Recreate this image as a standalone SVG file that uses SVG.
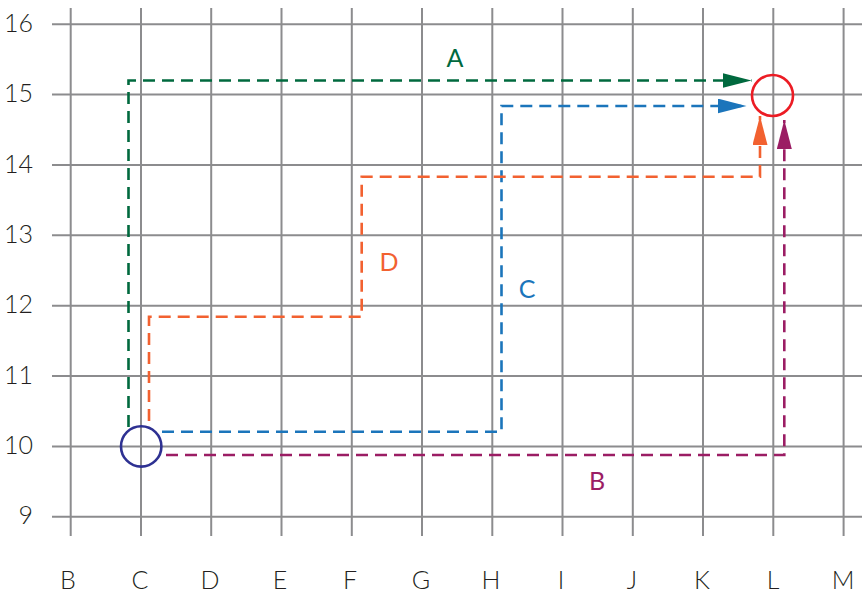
<svg xmlns="http://www.w3.org/2000/svg" width="864" height="594" viewBox="0 0 864 594">
<defs>
<style>
.grid line{stroke:#8c8c8e;stroke-width:2}
.lbl{font-family:Lato,"Liberation Sans",sans-serif;font-weight:300;font-size:25px;fill:#231f20}
.ax{text-anchor:middle}
.ay{text-anchor:end}
.route{fill:none;stroke-width:2.6;stroke-dasharray:12 7}
.tag{font-family:Lato,"Liberation Sans",sans-serif;font-size:25px;text-anchor:middle}
</style>
<marker id="mA" markerUnits="userSpaceOnUse" markerWidth="30" markerHeight="16" refX="29" refY="7.5" orient="auto"><path d="M0,0 L29,7.5 L0,15 z" fill="#00693e"/></marker>
<marker id="mB" markerUnits="userSpaceOnUse" markerWidth="30" markerHeight="16" refX="29" refY="7.5" orient="auto"><path d="M0,0 L29,7.5 L0,15 z" fill="#9b1d64"/></marker>
<marker id="mC" markerUnits="userSpaceOnUse" markerWidth="30" markerHeight="16" refX="29" refY="7.5" orient="auto"><path d="M0,0 L29,7.5 L0,15 z" fill="#1b75bb"/></marker>
<marker id="mD" markerUnits="userSpaceOnUse" markerWidth="30" markerHeight="16" refX="29" refY="7.5" orient="auto"><path d="M0,0 L29,7.5 L0,15 z" fill="#f26130"/></marker>
</defs>
<rect width="864" height="594" fill="#fff"/>
<g id="grid" class="grid">
<line x1="70.7" y1="8" x2="70.7" y2="536"/>
<line x1="141" y1="8" x2="141" y2="536"/>
<line x1="211.2" y1="8" x2="211.2" y2="536"/>
<line x1="281.5" y1="8" x2="281.5" y2="536"/>
<line x1="351.8" y1="8" x2="351.8" y2="536"/>
<line x1="422" y1="8" x2="422" y2="536"/>
<line x1="492.3" y1="8" x2="492.3" y2="536"/>
<line x1="562.5" y1="8" x2="562.5" y2="536"/>
<line x1="632.8" y1="8" x2="632.8" y2="536"/>
<line x1="703" y1="8" x2="703" y2="536"/>
<line x1="773.3" y1="8" x2="773.3" y2="536"/>
<line x1="843.6" y1="8" x2="843.6" y2="536"/>
<line x1="52" y1="24.3" x2="862" y2="24.3"/>
<line x1="52" y1="94.6" x2="862" y2="94.6"/>
<line x1="52" y1="165" x2="862" y2="165"/>
<line x1="52" y1="235.3" x2="862" y2="235.3"/>
<line x1="52" y1="305.7" x2="862" y2="305.7"/>
<line x1="52" y1="376" x2="862" y2="376"/>
<line x1="52" y1="446.4" x2="862" y2="446.4"/>
<line x1="52" y1="516.7" x2="862" y2="516.7"/>
</g>
<g id="axis-y" class="lbl ay">
<text x="33" y="32">16</text>
<text x="33" y="102">15</text>
<text x="33" y="172.5">14</text>
<text x="33" y="243">13</text>
<text x="33" y="313.2">12</text>
<text x="33" y="383.5">11</text>
<text x="33" y="454">10</text>
<text x="33" y="524">9</text>
</g>
<g id="axis-x" class="lbl ax">
<text x="68" y="589">B</text>
<text x="140" y="589">C</text>
<text x="210" y="589">D</text>
<text x="280" y="589">E</text>
<text x="350" y="589">F</text>
<text x="421" y="589">G</text>
<text x="491" y="589">H</text>
<text x="561" y="589">I</text>
<text x="632" y="589">J</text>
<text x="702" y="589">K</text>
<text x="773" y="589">L</text>
<text x="843" y="589">M</text>
</g>
<g id="connectors">
<path id="route-A" class="route" stroke="#00693e" d="M128.5,427 V80.5 H751.5" marker-end="url(#mA)"/>
<path id="route-C" class="route" stroke="#1b75bb" d="M162,431.7 H501.5 V106 H746.5" marker-end="url(#mC)"/>
<path id="route-D" class="route" stroke="#f26130" d="M149,421 V316.7 H361.7 V176.7 H760 V116" marker-end="url(#mD)"/>
<path id="route-B" class="route" stroke="#9b1d64" d="M166,455 H784.3 V120" marker-end="url(#mB)"/>
</g>
<g id="label-A"><text class="tag" x="455" y="67" fill="#00693e">A</text></g>
<g id="label-B"><text class="tag" x="597" y="490" fill="#9b1d64">B</text></g>
<g id="label-C"><text class="tag" x="527" y="298" fill="#1b75bb">C</text></g>
<g id="label-D"><text class="tag" x="389" y="271" fill="#f26130">D</text></g>
<g id="start"><circle cx="141.2" cy="446.4" r="20.2" fill="none" stroke="#2e3192" stroke-width="2.6"/></g>
<g id="end"><circle cx="772.5" cy="95.5" r="20.5" fill="none" stroke="#ec1c24" stroke-width="2.6"/></g>
</svg>
